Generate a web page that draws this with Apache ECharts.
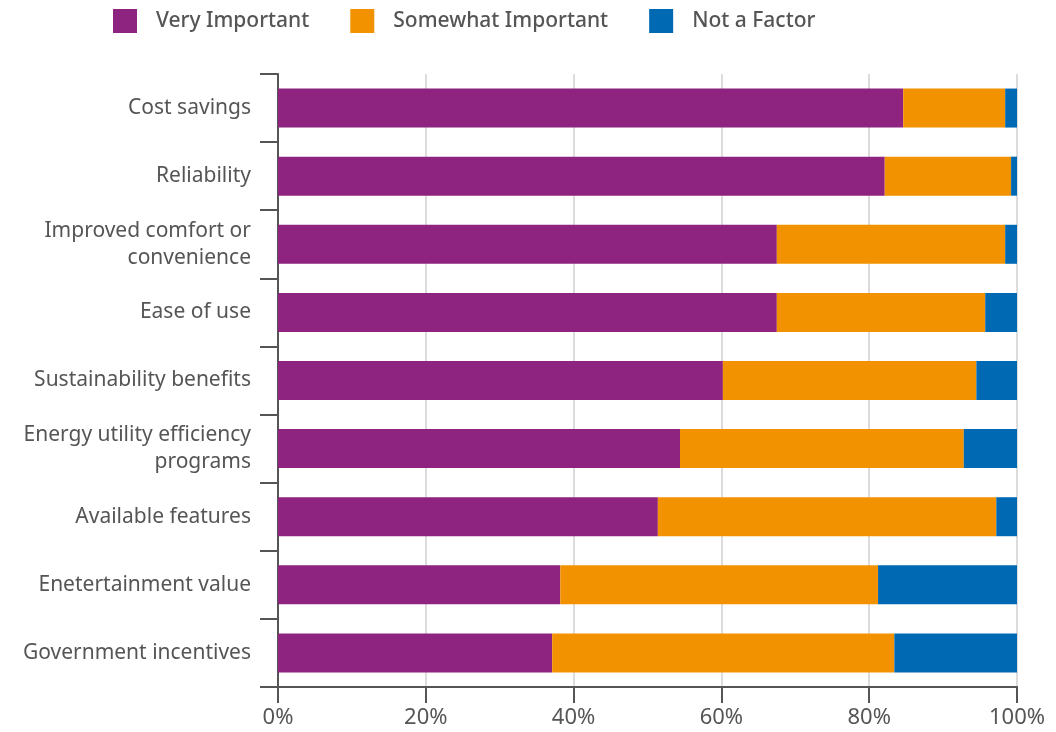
<!DOCTYPE html>
<html>
<head>
<meta charset="utf-8">
<script src="https://cdn.jsdelivr.net/npm/echarts@6/dist/echarts.min.js"></script>
<style>
  html, body { margin: 0; padding: 0; background: #fff; }
  #main { width: 1056px; height: 732px; }
</style>
</head>
<body>
<div id="main"></div>
<script>
// 数据（百分比，按图片读出）
var categories = [
  'Cost savings',
  'Reliability',
  'Improved comfort or\nconvenience',
  'Ease of use',
  'Sustainability benefits',
  'Energy utility efficiency\nprograms',
  'Available features',
  'Enetertainment value',
  'Government incentives'
]
var veryImportant = [84.6, 82.1, 67.5, 67.5, 60.2, 54.4, 51.4, 38.2, 37.1]
var somewhatImportant = [13.8, 17.1, 30.9, 28.2, 34.3, 38.4, 45.8, 43.0, 46.3]
var notAFactor = [1.6, 0.8, 1.6, 4.3, 5.5, 7.2, 2.8, 18.8, 16.6]
var xTicks = [0, 20, 40, 60, 80, 100]

var fontFamily = '"Noto Sans", sans-serif'
var textColor = '#555'
var axisColor = '#555'

var chart = echarts.init(document.getElementById('main'))

function barSeries(name, data) {
  return {
    name: name,
    type: 'bar',
    stack: 'total',
    barWidth: 39,
    data: data
  }
}

var option = {
  color: ['#8e2480', '#f39200', '#0069b4'],
  textStyle: { fontFamily: fontFamily },
  legend: {
    left: 113,
    top: 9,
    padding: 0,
    itemWidth: 24,
    itemHeight: 24,
    itemGap: 41,
    icon: 'rect',
    textStyle: {
      color: textColor,
      fontSize: 21,
      fontWeight: 500,
      fontFamily: fontFamily,
      padding: [2, 0, 0, 14]
    },
    data: ['Very Important', 'Somewhat Important', 'Not a Factor']
  },
  grid: {
    left: 278,
    right: 39,
    top: 74,
    bottom: 45,
    containLabel: false
  },
  xAxis: {
    type: 'value',
    min: 0,
    max: 100,
    interval: 20,
    axisLine: { show: true, lineStyle: { color: axisColor, width: 2 } },
    axisTick: { show: true, length: 16, lineStyle: { color: axisColor, width: 2 } },
    axisLabel: {
      color: textColor,
      fontSize: 22,
      margin: 20,
      formatter: function (v) { return xTicks.indexOf(v) >= 0 ? v + '%' : '' }
    },
    splitLine: { show: true, lineStyle: { color: '#dcdcdc', width: 2 } }
  },
  yAxis: {
    type: 'category',
    inverse: true,
    data: categories,
    axisLine: { show: true, lineStyle: { color: axisColor, width: 2 } },
    axisTick: { show: true, length: 18, lineStyle: { color: axisColor, width: 2 } },
    axisLabel: {
      color: textColor,
      fontSize: 21,
      lineHeight: 27,
      margin: 27,
      align: 'right',
      padding: [4, 0, 0, 0]
    }
  },
  series: [
    barSeries('Very Important', veryImportant),
    barSeries('Somewhat Important', somewhatImportant),
    barSeries('Not a Factor', notAFactor)
  ]
}

chart.setOption(option)
</script>
</body>
</html>
